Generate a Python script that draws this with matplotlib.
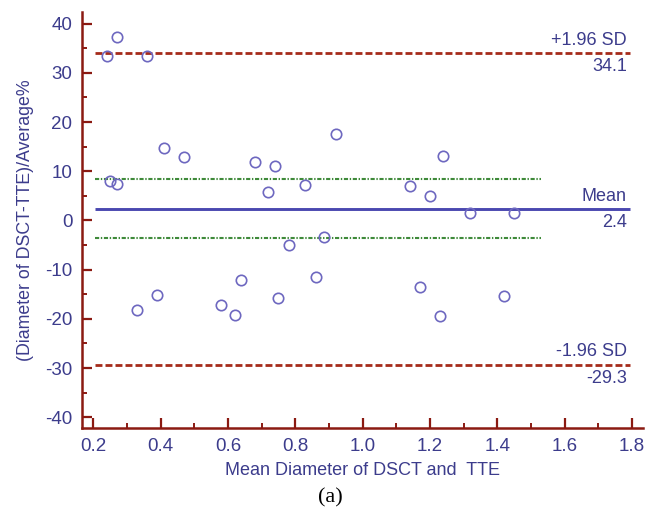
import matplotlib
matplotlib.use("Agg")
import matplotlib.pyplot as plt
from matplotlib.ticker import MultipleLocator

mean_x = [0.24, 0.27, 0.36, 0.41, 0.47, 0.25, 0.27, 0.68, 0.74, 0.72,
          0.83, 0.92, 0.78, 0.885, 1.14, 1.20, 1.24, 1.32, 1.45,
          0.33, 0.39, 0.58, 0.62, 0.64, 0.75, 0.86, 1.17, 1.23, 1.42]
diff_pct = [33.5, 37.2, 33.5, 14.8, 12.9, 8.0, 7.5, 11.8, 11.0, 5.7,
            7.2, 17.5, -4.9, -3.3, 7.0, 5.0, 13.1, 1.6, 1.6,
            -18.1, -15.2, -17.1, -19.3, -12.2, -15.8, -11.4, -13.5, -19.5, -15.4]

mean_val = 2.4
upper_sd = 34.1
lower_sd = -29.3
ci_upper = 8.4
ci_lower = -3.5
ci_x = [0.206, 1.53]
line_x = [0.206, 1.794]

x_ticks = [0.2, 0.4, 0.6, 0.8, 1.0, 1.2, 1.4, 1.6, 1.8]
y_ticks = [-40, -30, -20, -10, 0, 10, 20, 30, 40]

plt.rcParams['lines.scale_dashes'] = False
plt.rcParams['font.family'] = ['Liberation Sans', 'DejaVu Sans']
spine_c = "#8b1a12"
txt_c = "#3c3c8c"
pt_c = "#6e68c0"

fig = plt.figure(figsize=(6.47, 5.17), dpi=100)
ax = fig.add_axes([0.127, 0.172, 0.867, 0.805])

ax.plot(line_x, [upper_sd]*2, color="#a52a1a", lw=2.0, dashes=(5, 2.2))
ax.plot(line_x, [lower_sd]*2, color="#a52a1a", lw=2.0, dashes=(5, 2.2))
ax.plot(line_x, [mean_val]*2, color="#4a48b0", lw=2.1, solid_capstyle='butt')
ax.plot(ci_x, [ci_upper]*2, color="#3f8a3a", lw=1.5, dashes=(3, 1.2, 1, 1.2))
ax.plot(ci_x, [ci_lower]*2, color="#3f8a3a", lw=1.5, dashes=(3, 1.2, 1, 1.2))

ax.plot(mean_x, diff_pct, linestyle='none', marker='o', markersize=7.5,
        markerfacecolor='none', markeredgecolor=pt_c, markeredgewidth=1.2)

ax.set_xlim(0.167, 1.833)
ax.set_ylim(-42.2, 42.4)
ax.set_xticks(x_ticks)
ax.set_xticklabels([f"{v:.1f}" for v in x_ticks])
ax.set_yticks(y_ticks)
ax.set_yticklabels([str(v) for v in y_ticks])
ax.xaxis.set_minor_locator(MultipleLocator(0.1))
ax.yaxis.set_minor_locator(MultipleLocator(5))

for s in ['top', 'right']:
    ax.spines[s].set_visible(False)
for s in ['left', 'bottom']:
    ax.spines[s].set_color(spine_c)
    ax.spines[s].set_linewidth(1.8)

ax.tick_params(which='major', direction='in', length=7.5, width=1.6,
               color=spine_c, labelcolor=txt_c, labelsize=13.5, pad=7)
ax.tick_params(which='minor', direction='in', length=3.8, width=1.4, color=spine_c)

ax.set_xlabel("Mean Diameter of DSCT and  TTE", color=txt_c, fontsize=13, labelpad=5)
ax.set_ylabel("(Diameter of DSCT-TTE)/Average%", color=txt_c, fontsize=12.8, labelpad=8)

tx = 1.785
for yv, top, bot in [(upper_sd, "+1.96 SD", f"{upper_sd:.1f}"),
                     (mean_val, "Mean", f"{mean_val:.1f}"),
                     (lower_sd, "-1.96 SD", f"{lower_sd:.1f}")]:
    ax.annotate(top, (tx, yv), xytext=(0, 3), textcoords='offset points',
                ha='right', va='bottom', color=txt_c, fontsize=13)
    ax.annotate(bot, (tx, yv), xytext=(0, -4), textcoords='offset points',
                ha='right', va='top', color=txt_c, fontsize=13)

fig.text(0.51, 0.037, "(a)", ha='center', va='center', fontsize=16,
         family='Liberation Serif', color='black')

fig.savefig("out.png", dpi=100, facecolor='white')
